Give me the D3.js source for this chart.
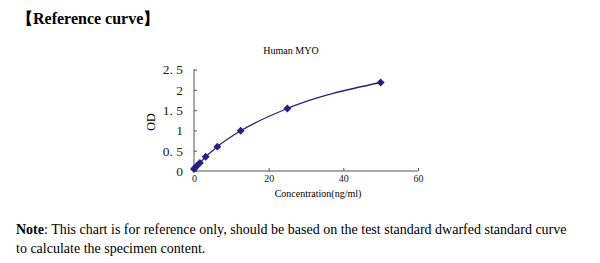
<!DOCTYPE html>
<html>
<head>
<meta charset="utf-8">
<script src="https://cdn.jsdelivr.net/npm/d3@7"></script>
<style>
  body { margin: 0; background: #fff; }
  svg { display: block; }
</style>
</head>
<body>
<div id="chart"></div>
<script>
// standard curve readings
var concentration = [0, 0.39, 0.78, 1.56, 3.125, 6.25, 12.5, 25, 50];
var od = [0.05, 0.09, 0.13, 0.2, 0.35, 0.6, 0.99, 1.54, 2.18];
var xTicks = [0, 20, 40, 60];
var yTicks = [0, 0.5, 1, 1.5, 2, 2.5];

var svg_width = 600;
var svg_height = 263;
var line_color = "#23237d";

var svg = d3.select("#chart")
            .append("svg")
            .attr("width", svg_width)
            .attr("height", svg_height);

var xScale = d3.scaleLinear()
               .domain([0, 60])
               .range([194, 418]);

var yScale = d3.scaleLinear()
               .domain([0, 2.5])
               .range([171, 69.5]);

// header
svg.append("text")
   .attr("x", 17)
   .attr("y", 24)
   .style("font", "bold 16px 'Liberation Serif', serif")
   .text("【Reference curve】");

// title
svg.append("text")
   .attr("x", 291)
   .attr("y", 54)
   .attr("text-anchor", "middle")
   .style("font", "10px 'Liberation Serif', serif")
   .text("Human MYO");

var yAxis = d3.axisLeft(yScale)
              .tickValues(yTicks)
              .tickSize(-3)
              .tickPadding(11)
              .tickFormat(function(d) { return d3.format("")(d).replace(".", ". "); });

var gy = svg.append("g")
            .attr("transform", "translate(" + xScale(0) + ",0)")
            .call(yAxis);
gy.select(".domain").attr("stroke", "#555").attr("d", "M0," + yScale(2.5) + "V" + yScale(0));
gy.selectAll(".tick line").attr("stroke", "#555");
gy.selectAll("text")
  .style("font", "13.5px 'Liberation Serif', serif")
  .style("white-space", "pre")
  .attr("fill", "#222");

var xAxis = d3.axisBottom(xScale)
              .tickValues(xTicks)
              .tickSize(-3)
              .tickPadding(4);

var gx = svg.append("g")
            .attr("transform", "translate(0," + yScale(0) + ")")
            .call(xAxis);
gx.select(".domain").attr("stroke", "#555").attr("d", "M" + xScale(0) + ",0H" + xScale(60));
gx.selectAll(".tick line").attr("stroke", "#555");
gx.selectAll("text")
  .style("font", "10px 'Liberation Serif', serif")
  .attr("fill", "#222");

// axis titles
svg.append("text")
   .attr("x", 318)
   .attr("y", 197)
   .attr("text-anchor", "middle")
   .style("font", "10px 'Liberation Serif', serif")
   .text("Concentration(ng/ml)");

svg.append("text")
   .attr("transform", "translate(155,122) rotate(-90)")
   .attr("text-anchor", "middle")
   .style("font", "12px 'Liberation Serif', serif")
   .text("OD");

var points = concentration.map(function(c, i) { return {x: c, y: od[i]}; });

var line = d3.line()
             .x(function(d) { return xScale(d.x); })
             .y(function(d) { return yScale(d.y); })
             .curve(d3.curveMonotoneX);

svg.append("path")
   .datum(points)
   .attr("fill", "none")
   .attr("stroke", line_color)
   .attr("stroke-width", 1.3)
   .attr("d", line);

svg.selectAll(".pt")
   .data(points)
   .enter()
     .append("path")
     .attr("class", "pt")
     .attr("d", d3.symbol().type(d3.symbolDiamond2).size(40))
     .attr("transform", function(d) { return "translate(" + xScale(d.x) + "," + yScale(d.y) + ")"; })
     .attr("fill", line_color);

// note
var note = svg.append("text")
              .attr("x", 16)
              .attr("y", 234)
              .style("font", "14px 'Liberation Serif', serif");
note.append("tspan").style("font-weight", "bold").text("Note");
note.append("tspan").text(": This chart is for reference only, should be based on the test standard dwarfed standard curve");

svg.append("text")
   .attr("x", 16)
   .attr("y", 253)
   .style("font", "14px 'Liberation Serif', serif")
   .text("to calculate the specimen content.");
</script>
</body>
</html>
